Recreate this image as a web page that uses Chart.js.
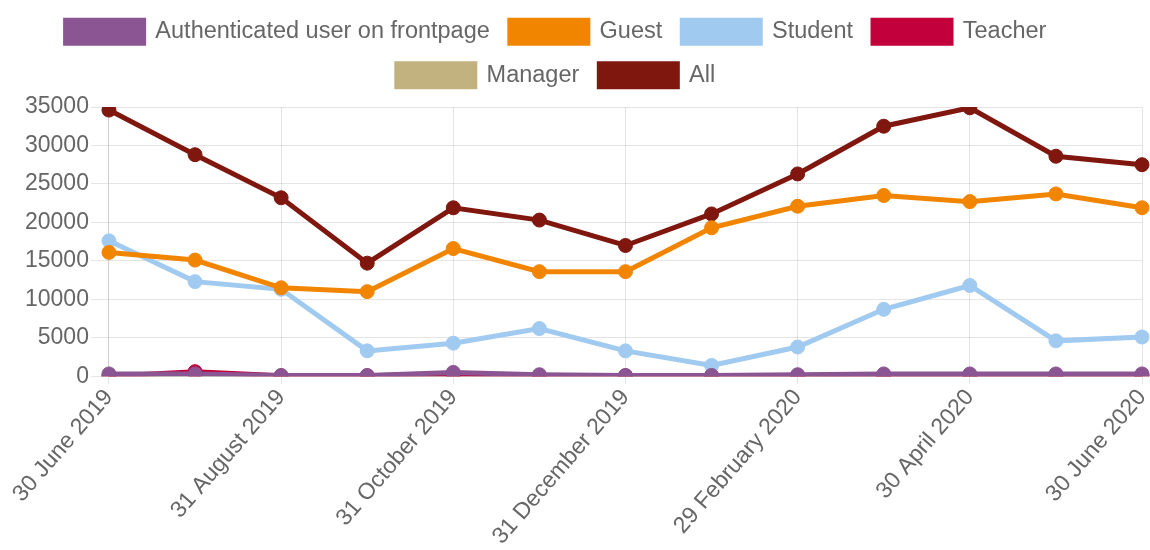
<!DOCTYPE html>
<html>
<head>
<meta charset="utf-8">
<script src="https://cdn.jsdelivr.net/npm/chart.js@4/dist/chart.umd.min.js"></script>
<style>
  html, body { margin: 0; padding: 0; background: #fff; }
  #wrap { width: 1150px; height: 550px; }
</style>
</head>
<body>
<div id="wrap"><canvas id="usage-chart"></canvas></div>
<script>
const months = [
    '30 June 2019', '31 July 2019', '31 August 2019', '30 September 2019',
    '31 October 2019', '30 November 2019', '31 December 2019', '31 January 2020',
    '29 February 2020', '31 March 2020', '30 April 2020', '31 May 2020', '30 June 2020'
];

const authenticated = [300, 300, 100, 100, 500, 200, 100, 100, 200, 300, 300, 300, 300];
const guest = [16100, 15100, 11500, 11000, 16600, 13600, 13600, 19300, 22100, 23500, 22700, 23700, 21900];
const student = [17600, 12300, 11300, 3300, 4300, 6200, 3300, 1400, 3800, 8700, 11800, 4600, 5100];
const teacher = [0, 600, 50, 50, 300, 50, 50, 50, 50, 50, 50, 50, 50];
const manager = [0, 0, 0, 0, 0, 0, 0, 0, 0, 0, 0, 0, 0];
const all = [34600, 28800, 23200, 14700, 21900, 20300, 17000, 21100, 26300, 32500, 34900, 28600, 27500];

const yTicks = [0, 5000, 10000, 15000, 20000, 25000, 30000, 35000];

// one helper so every series gets the same line look
const series = (label, data, color) => ({
    label: label,
    data: data,
    borderColor: color,
    backgroundColor: color,
    pointBackgroundColor: color,
    pointBorderColor: color,
    borderWidth: 5,
    pointRadius: 7,
    pointBorderWidth: 1,
    tension: 0,
    fill: false
});

Chart.defaults.font.family = '"Liberation Sans", Arial, Helvetica, sans-serif';
Chart.defaults.font.size = 23;
Chart.defaults.color = '#666';

// the legend in the original sits a little left of centre and
// leaves a bit more room above the plot
const legendTweak = {
    id: 'legendTweak',
    beforeInit(chart) {
        const fit = chart.legend.fit;
        chart.legend.fit = function () {
            fit.call(this);
            this.height += 10;
        };
    },
    afterLayout(chart) {
        chart.legend.left = 0;
        chart.legend.right = chart.width - 38;
    }
};

new Chart('usage-chart', {
    type: 'line',
    data: {
        labels: months,
        datasets: [
            series('Authenticated user on frontpage', authenticated, '#8a5592'),
            series('Guest', guest, '#f28500'),
            series('Student', student, '#a1caf1'),
            series('Teacher', teacher, '#c2003b'),
            series('Manager', manager, '#c2b280'),
            series('All', all, '#80170f')
        ]
    },
    options: {
        responsive: true,
        maintainAspectRatio: false,
        animation: false,
        layout: { padding: { left: 23, right: 0, top: 0, bottom: 0 } },
        plugins: {
            legend: {
                position: 'top',
                labels: {
                    boxWidth: 78,
                    boxHeight: 23,
                    padding: 20,
                    color: '#666',
                    font: { size: 23.5 }
                }
            },
            tooltip: { enabled: false }
        },
        scales: {
            x: {
                grid: { color: 'rgba(0,0,0,0.1)', tickLength: 8 },
                border: { color: 'rgba(0,0,0,0.1)' },
                ticks: {
                    autoSkip: false,
                    maxRotation: 49,
                    minRotation: 49,
                    padding: 0,
                    callback: (v, i) => (i % 2 ? null : months[i])
                },
                // let the plot run almost to the right edge like the original
                afterFit: (axis) => { axis.paddingLeft = 0; axis.paddingRight = 8; }
            },
            y: {
                min: 0,
                max: 35000,
                afterBuildTicks: (axis) => { axis.ticks = yTicks.map(v => ({ value: v })); },
                grid: { color: 'rgba(0,0,0,0.1)', tickLength: 18 },
                border: { color: 'rgba(0,0,0,0.1)' },
                ticks: { padding: 2, callback: (v) => String(v) }
            }
        }
    },
    plugins: [legendTweak]
});
</script>
</body>
</html>
